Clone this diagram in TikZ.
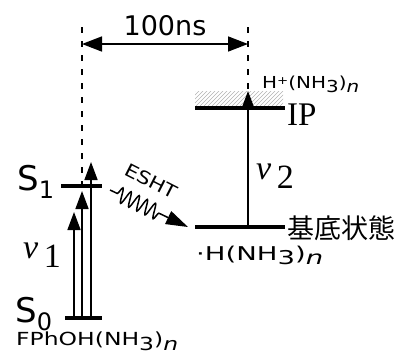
\documentclass[tikz,border=0pt]{standalone}
\usepackage{fontspec}
\setmainfont{Liberation Serif}
\newfontfamily\jp{Noto Sans CJK JP}
\newfontfamily\lat{DejaVu Sans}
\usetikzlibrary{arrows.meta,decorations.pathmorphing}
\newcommand\dn[2]{\raisebox{#1}{#2}}
\begin{document}
\begin{tikzpicture}[x=1pt,y=-1pt,
  level/.style={line width=3.6pt},
  shaft/.style={line width=1.6pt,-{Triangle[length=18pt,width=13pt]}},
  guide/.style={line width=1.4pt,dash pattern=on 5.5pt off 8.5pt},
  sans/.style={font=\lat\fontsize{#1}{#1}\selectfont,inner sep=0pt},
  jps/.style={font=\jp\fontsize{#1}{#1}\selectfont,inner sep=0pt},
  serifl/.style={font=\fontsize{#1}{#1}\selectfont,inner sep=0pt}]
\useasboundingbox (0,0) rectangle (398,359);
% coordinates
\coordinate (s0L) at (65,318); \coordinate (s0R) at (102,318);
\coordinate (s1L) at (61,186); \coordinate (s1R) at (102,186);
\coordinate (ipL) at (195,108); \coordinate (ipR) at (285,108);
\coordinate (gsL) at (195,227); \coordinate (gsR) at (285,227);
\coordinate (a1s) at (74,318); \coordinate (a1e) at (74,212);
\coordinate (a2s) at (82,318); \coordinate (a2e) at (82,191);
\coordinate (a3s) at (91,318); \coordinate (a3e) at (91,162);
\coordinate (v2s) at (248,227); \coordinate (v2e) at (248,91);
\coordinate (d1t) at (82,27); \coordinate (d1b) at (82,186);
\coordinate (d2t) at (248,27); \coordinate (d2b) at (248,91);
\coordinate (tL) at (82,44); \coordinate (tR) at (248,44);
\coordinate (eS) at (110,190); \coordinate (eE) at (188,227);
% hatch above IP
\begin{scope}
\clip (195,91) rectangle (283,105);
\foreach \i in {0,4,...,110} {\draw[gray!60,line width=0.5pt] (180+\i,106) -- (196+\i,90);}
\end{scope}
% dashed guides
\draw[guide] (d1t) -- (d1b);
\draw[guide] (d2t) -- (d2b);
% time arrow
\draw[line width=1.6pt,{Triangle[length=20pt,width=15pt]}-{Triangle[length=20pt,width=15pt]}] (tL) -- (tR);
% levels
\draw[level] (s0L) -- (s0R);
\draw[level] (s1L) -- (s1R);
\draw[level] (ipL) -- (ipR);
\draw[level] (gsL) -- (gsR);
% arrows
\draw[shaft] (a1s) -- (a1e);
\draw[shaft] (a2s) -- (a2e);
\draw[shaft] (a3s) -- (a3e);
\draw[shaft] (v2s) -- (v2e);
% ESHT wavy
\draw[line width=1.5pt,decorate,decoration={snake,segment length=9pt,amplitude=7.5pt,pre length=8pt,post length=30pt},-{Triangle[length=22pt,width=14pt]}] (eS) -- (eE);
% labels
\node[sans=27,anchor=base] (t100) at (165,35) {100ns};
\node[sans=16.5,anchor=base west] (hp) at (262,88) {\resizebox{97pt}{\height}{H\dn{4pt}{\fontsize{11}{11}\selectfont+}(NH\dn{-4pt}{3})\dn{-4pt}{\itshape n}}};
\node[serifl=33,anchor=base west] (ip) at (287,125) {IP};
\node[serifl=34,anchor=base west] (nu2) at (256,188) {\dn{9pt}{\itshape ν}\,2};
\node[serifl=34,anchor=base west] (nu1) at (23,267) {\dn{9pt}{\itshape ν}\,1};
\node[jps=27,anchor=base west] (gs) at (287,238) {基底状態};
\node[sans=19,anchor=base west] (hr) at (196,260) {\resizebox{127pt}{\height}{·H(NH\dn{-4pt}{3})\dn{-4pt}{\itshape n}}};
\node[sans=34,anchor=base west] (s1) at (17,190) {S\dn{-8pt}{\fontsize{24}{24}\selectfont 1}};
\node[sans=34,anchor=base west] (s0) at (15,322) {S\dn{-8pt}{\fontsize{24}{24}\selectfont 0}};
\node[sans=18,anchor=base west] (fp) at (16,345) {\resizebox{162pt}{\height}{FPhOH(NH\dn{-5pt}{3})\dn{-5pt}{\itshape n}}};
\node[sans=18,rotate=-27] (esht) at (151,181) {\resizebox{56pt}{\height}{ESHT}};
\end{tikzpicture}
\end{document}
